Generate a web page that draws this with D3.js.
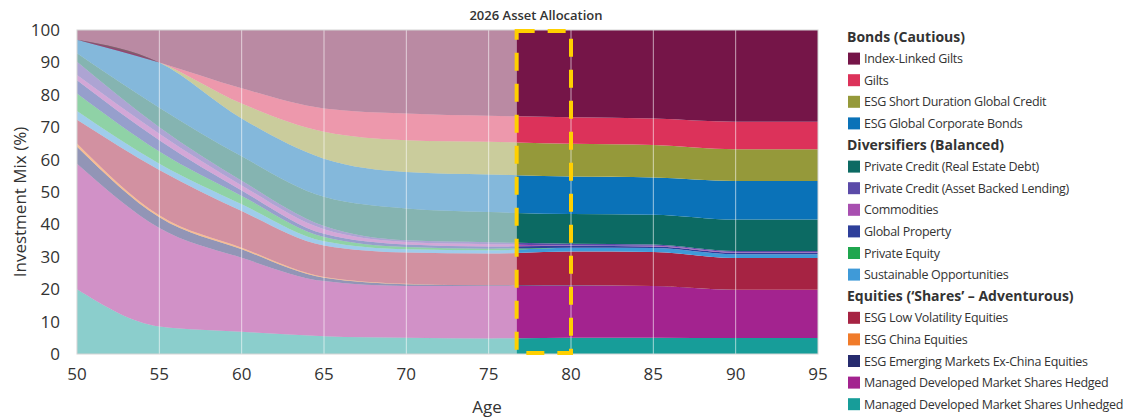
<!DOCTYPE html>
<html>
<head>
<meta charset="utf-8">
<script src="https://cdn.jsdelivr.net/npm/d3@7"></script>
<style>
body{margin:0;background:#fff;}
text{font-family:"Open Sans",sans-serif;fill:#333;}
</style>
</head>
<body>
<svg id="chart" width="1126" height="420"></svg>
<script>
// ages on the x axis
const ages = [50, 55, 60, 65, 70, 75, 80, 85, 90, 95];

// allocation (%) per asset, bottom of stack first
const unhedged   = [20, 8.5, 6.9, 5.5, 5, 4.8, 5, 5, 4.9, 4.9];
const hedged     = [38.7, 30.4, 22.8, 17, 16, 16.2, 16.1, 16, 14.9, 14.9];
const emExChina  = [5.3, 3.3, 2.6, 1, 0.5, 0.2, 0.1, 0, 0, 0];
const china      = [1, 0.6, 0.5, 0.3, 0.2, 0, 0, 0, 0, 0];
const lowVol     = [7.3, 14, 11.3, 9.7, 9.6, 9.8, 10.4, 10.5, 9.8, 9.8];
const sustOpp    = [2.7, 1.9, 2.1, 1.3, 1, 1, 1.2, 1.2, 1.2, 1.2];
const privEquity = [5.4, 3.8, 2.6, 1.3, 0.7, 0.5, 0, 0, 0, 0];
const globProp   = [4.1, 3.5, 1.7, 1, 0.8, 0.7, 0.5, 0.5, 0.5, 0.5];
const commods    = [1.6, 2, 1.5, 1.4, 0.8, 0.7, 0.2, 0.2, 0.2, 0.2];
const abl        = [4.1, 2, 1.5, 1, 0.5, 0.6, 0.5, 0.4, 0.3, 0.3];
const realEstate = [2.6, 6, 7.5, 9, 9.8, 9.3, 9.2, 9.2, 9.7, 9.7];
const corpBonds  = [4.2, 14, 11.7, 11.8, 11.3, 11.6, 11.6, 11.5, 11.9, 11.9];
const shortDur   = [0, 0, 4.6, 8.3, 9.8, 10.1, 10.1, 10, 9.8, 9.8];
const gilts      = [0, 0, 4.7, 7.2, 8.2, 8, 8.2, 8.2, 8.5, 8.5];
const ilGilts    = [3, 10, 18, 24.2, 25.8, 26.5, 26.9, 27.3, 28.3, 28.3];

const seriesNames = [
  "Managed Developed Market Shares Unhedged",
  "Managed Developed Market Shares Hedged",
  "ESG Emerging Markets Ex-China Equities",
  "ESG China Equities",
  "ESG Low Volatility Equities",
  "Sustainable Opportunities",
  "Private Equity",
  "Global Property",
  "Commodities",
  "Private Credit (Asset Backed Lending)",
  "Private Credit (Real Estate Debt)",
  "ESG Global Corporate Bonds",
  "ESG Short Duration Global Credit",
  "Gilts",
  "Index-Linked Gilts"
];
const seriesValues = [unhedged, hedged, emExChina, china, lowVol, sustOpp, privEquity,
  globProp, commods, abl, realEstate, corpBonds, shortDur, gilts, ilGilts];
const seriesColors = ["#179d99", "#a3238f", "#262b6e", "#f07b2a", "#a62343", "#3f9ad8",
  "#1fa64e", "#2e3f9a", "#a84fb0", "#5b4aa8", "#0c6a63", "#0a72b8", "#95993a", "#dc325a", "#751548"];

// legend groups (top to bottom)
const groupTitles = ["Bonds (Cautious)", "Diversifiers (Balanced)", "Equities (\u2018Shares\u2019 \u2013 Adventurous)"];
const groupMembers = [
  ["Index-Linked Gilts", "Gilts", "ESG Short Duration Global Credit", "ESG Global Corporate Bonds"],
  ["Private Credit (Real Estate Debt)", "Private Credit (Asset Backed Lending)", "Commodities",
   "Global Property", "Private Equity", "Sustainable Opportunities"],
  ["ESG Low Volatility Equities", "ESG China Equities", "ESG Emerging Markets Ex-China Equities",
   "Managed Developed Market Shares Hedged", "Managed Developed Market Shares Unhedged"]
];

const yTicks = [0, 10, 20, 30, 40, 50, 60, 70, 80, 90, 100];
const xTicks = [50, 55, 60, 65, 70, 75, 80, 85, 90, 95];
const currentAge = 76.7;   // start of the highlighted year
const boxEndAge = 80;

const svg = d3.select("#chart");
const pLeft = 77, pRight = 818, pTop = 30, pBottom = 354;

const x = d3.scaleLinear().domain([50, 95]).range([pLeft, pRight]);
const y = d3.scaleLinear().domain([0, 100]).range([pBottom, pTop]);

let table = ages.map((a, i) => {
  let row = {age: a};
  seriesNames.forEach((n, k) => row[n] = seriesValues[k][i]);
  return row;
});

let stacked = d3.stack().keys(seriesNames)(table);

let area = d3.area()
  .x(d => x(d.data.age))
  .y0(d => y(d[0]))
  .y1(d => y(d[1]))
  .curve(d3.curveMonotoneX);

let defs = svg.append("defs");
defs.append("clipPath").attr("id", "past")
  .append("rect").attr("x", pLeft).attr("y", pTop)
  .attr("width", x(currentAge) - pLeft).attr("height", pBottom - pTop);
defs.append("clipPath").attr("id", "future")
  .append("rect").attr("x", x(currentAge)).attr("y", pTop)
  .attr("width", pRight - x(currentAge)).attr("height", pBottom - pTop);

svg.append("g").attr("clip-path", "url(#past)")
  .selectAll("path").data(stacked).join("path")
  .attr("d", area)
  .attr("fill", (d, i) => seriesColors[i])
  .attr("fill-opacity", 0.5);

svg.append("g").attr("clip-path", "url(#future)")
  .selectAll("path").data(stacked).join("path")
  .attr("d", area)
  .attr("fill", (d, i) => seriesColors[i]);

// vertical grid
svg.append("g").selectAll("line")
  .data(xTicks.filter(t => t > 50 && t < 95)).join("line")
  .attr("x1", d => x(d)).attr("x2", d => x(d))
  .attr("y1", pTop).attr("y2", pBottom)
  .attr("stroke", "#fff").attr("stroke-opacity", 0.6).attr("stroke-width", 1);

// frame
svg.append("rect")
  .attr("x", pLeft).attr("y", pTop).attr("width", pRight - pLeft).attr("height", pBottom - pTop)
  .attr("fill", "none").attr("stroke", "#d4d4d4").attr("stroke-width", 1);

// highlight box
svg.append("rect")
  .attr("x", x(currentAge)).attr("y", pTop + 1)
  .attr("width", x(boxEndAge) - x(currentAge)).attr("height", pBottom - pTop - 2)
  .attr("fill", "none").attr("stroke", "#ffd000").attr("stroke-width", 4)
  .attr("stroke-dasharray", "18,13");

// axes labels
svg.append("g").selectAll("text").data(yTicks).join("text")
  .attr("x", 60).attr("y", d => y(d) + 6)
  .attr("text-anchor", "end").attr("font-size", 17)
  .text(d => d);

svg.append("g").selectAll("text").data(xTicks).join("text")
  .attr("x", d => x(d)).attr("y", 380)
  .attr("text-anchor", "middle").attr("font-size", 17)
  .text(d => d);

svg.append("text")
  .attr("transform", "translate(26,202) rotate(-90)")
  .attr("text-anchor", "middle").attr("font-size", 17)
  .text("Investment Mix (%)");

svg.append("text")
  .attr("x", 487).attr("y", 413)
  .attr("text-anchor", "middle").attr("font-size", 17)
  .text("Age");

svg.append("text")
  .attr("x", 536).attr("y", 20)
  .attr("text-anchor", "middle").attr("font-size", 13).attr("font-weight", 600)
  .attr("fill", "#222")
  .text("2026 Asset Allocation");

// legend
let lg = svg.append("g");
let row = 0, step = 21.6, ly0 = 37;
groupTitles.forEach((title, g) => {
  lg.append("text")
    .attr("x", 847).attr("y", ly0 + row * step + 5)
    .attr("font-size", 14).attr("font-weight", 700).attr("fill", "#222")
    .text(title);
  row++;
  groupMembers[g].forEach(name => {
    let cy = ly0 + row * step;
    lg.append("rect")
      .attr("x", 848).attr("y", cy - 6).attr("width", 12).attr("height", 12)
      .attr("fill", seriesColors[seriesNames.indexOf(name)]);
    lg.append("text")
      .attr("x", 864).attr("y", cy + 4.5)
      .attr("font-size", 12.5).attr("letter-spacing", -0.3)
      .text(name);
    row++;
  });
});
</script>
</body>
</html>
